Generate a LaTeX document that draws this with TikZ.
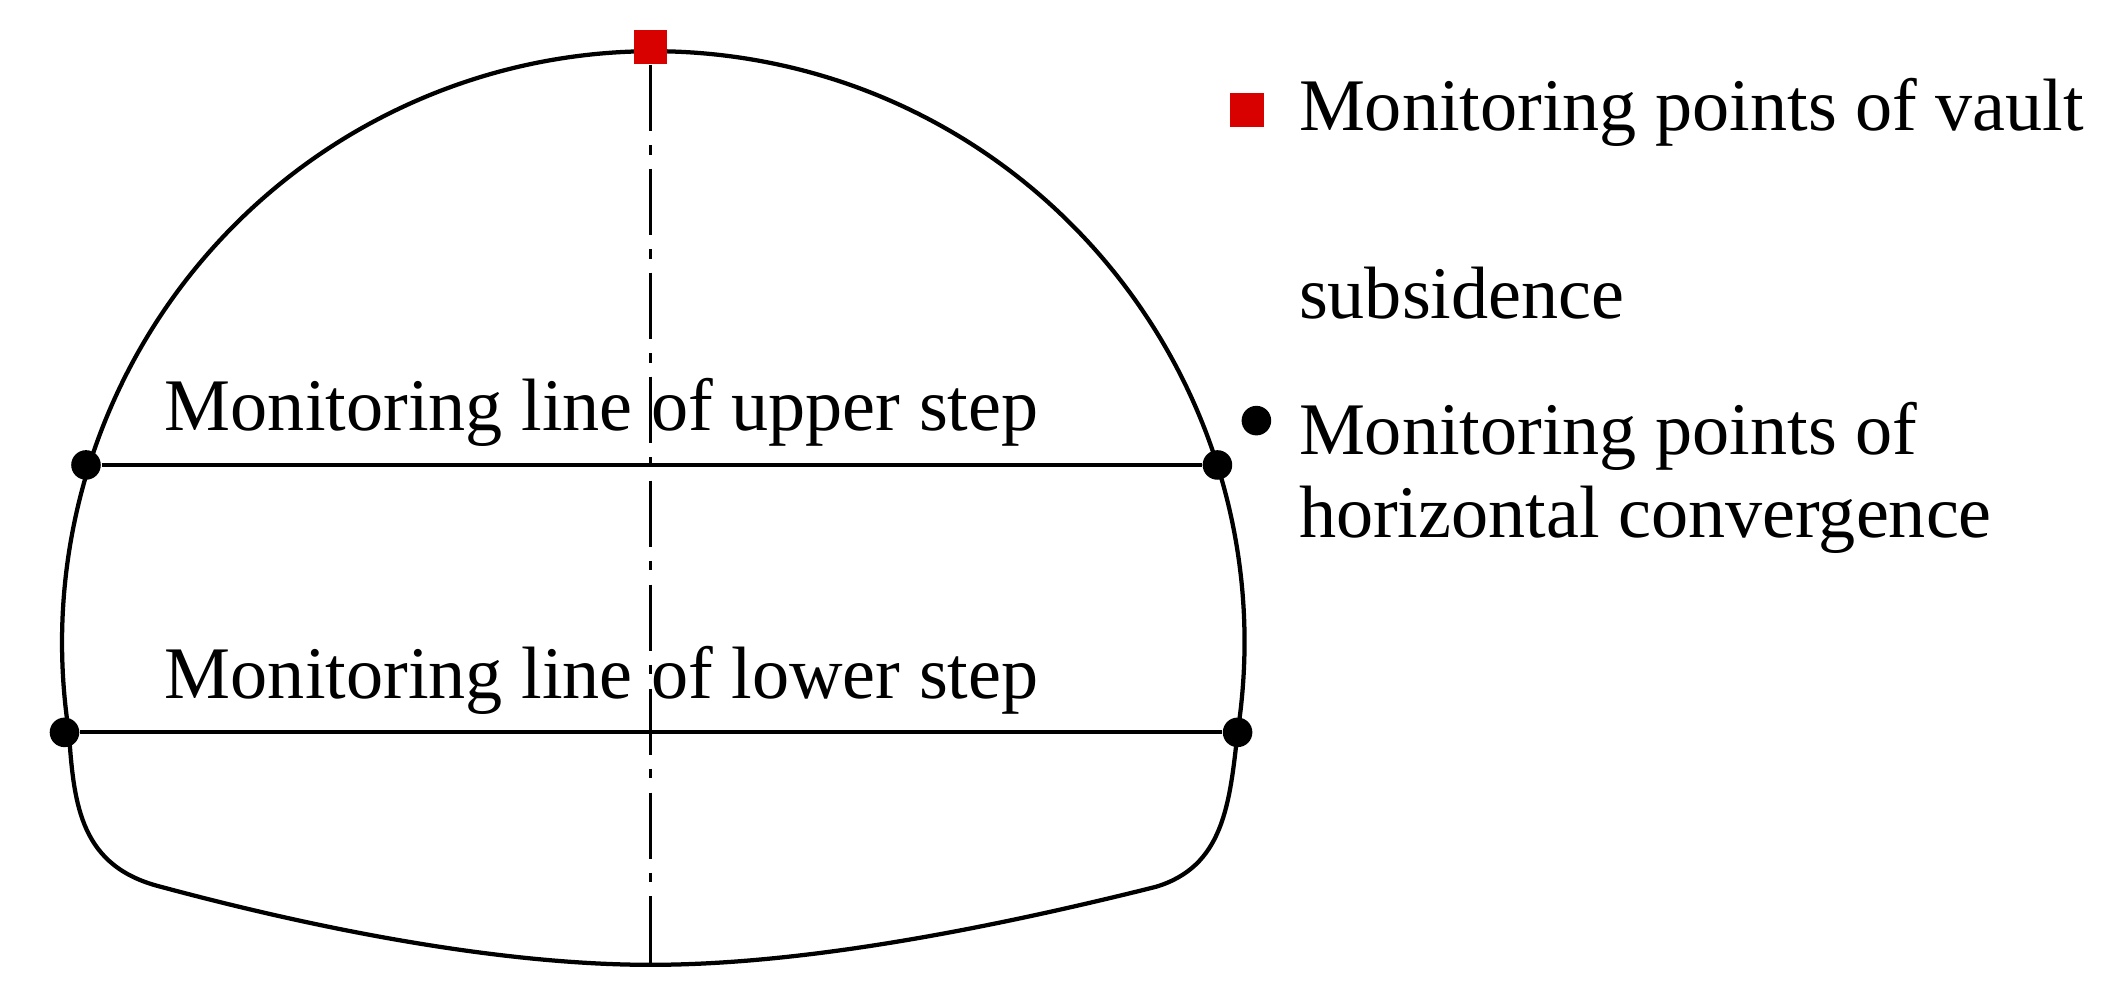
\documentclass[tikz,border=0pt]{standalone}
\usepackage{fontspec}
\setmainfont{Liberation Serif}
\begin{document}
\begin{tikzpicture}[x=0.01cm,y=-0.01cm,
  outline/.style={line width=0.9pt},
  mline/.style={line width=0.9pt},
  axis/.style={line width=0.7pt,dash pattern=on 14pt off 3pt on 2pt off 3pt},
  pt/.style={circle,fill=black,inner sep=0pt,minimum size=0.22cm},
  sq/.style={fill=red!85!black,inner sep=0pt,minimum size=0.25cm},
  lbl/.style={font=\fontsize{15.7pt}{18pt}\selectfont,inner sep=0pt,anchor=base west}]
\useasboundingbox (0,0) rectangle (1568,750);
\draw[outline] (921,545) arc[start angle=8.75, end angle=-188.75, radius=440]
  .. controls (55,600) and (60,645) .. (120,660)
  .. controls (250,695) and (380,718) .. (484,718)
  .. controls (590,718) and (720,695) .. (860,660)
  .. controls (910,645) and (915,600) .. (921,545);
\node[sq] (crown) at (484,35) {};
\coordinate (bot) at (484,718);
\draw[axis] (crown) -- (bot);
\node[pt] (u1) at (64,346) {};
\node[pt] (u2) at (906,346) {};
\node[pt] (l1) at (48,545) {};
\node[pt] (l2) at (921,545) {};
\draw[mline] (u1) -- (u2);
\draw[mline] (l1) -- (l2);
\node[lbl] (tu) at (122,320) {Monitoring line of upper step};
\node[lbl] (tl) at (122,520) {Monitoring line of lower step};
\node[sq] (lg1) at (928,82) {};
\node[lbl] (t1) at (966,97) {Monitoring points of vault};
\node[lbl] (t2) at (966,237) {subsidence};
\node[pt] (lg2) at (935,313) {};
\node[lbl] (t3) at (966,338) {Monitoring points of};
\node[lbl] (t4) at (966,400) {horizontal convergence};
\end{tikzpicture}
\end{document}
